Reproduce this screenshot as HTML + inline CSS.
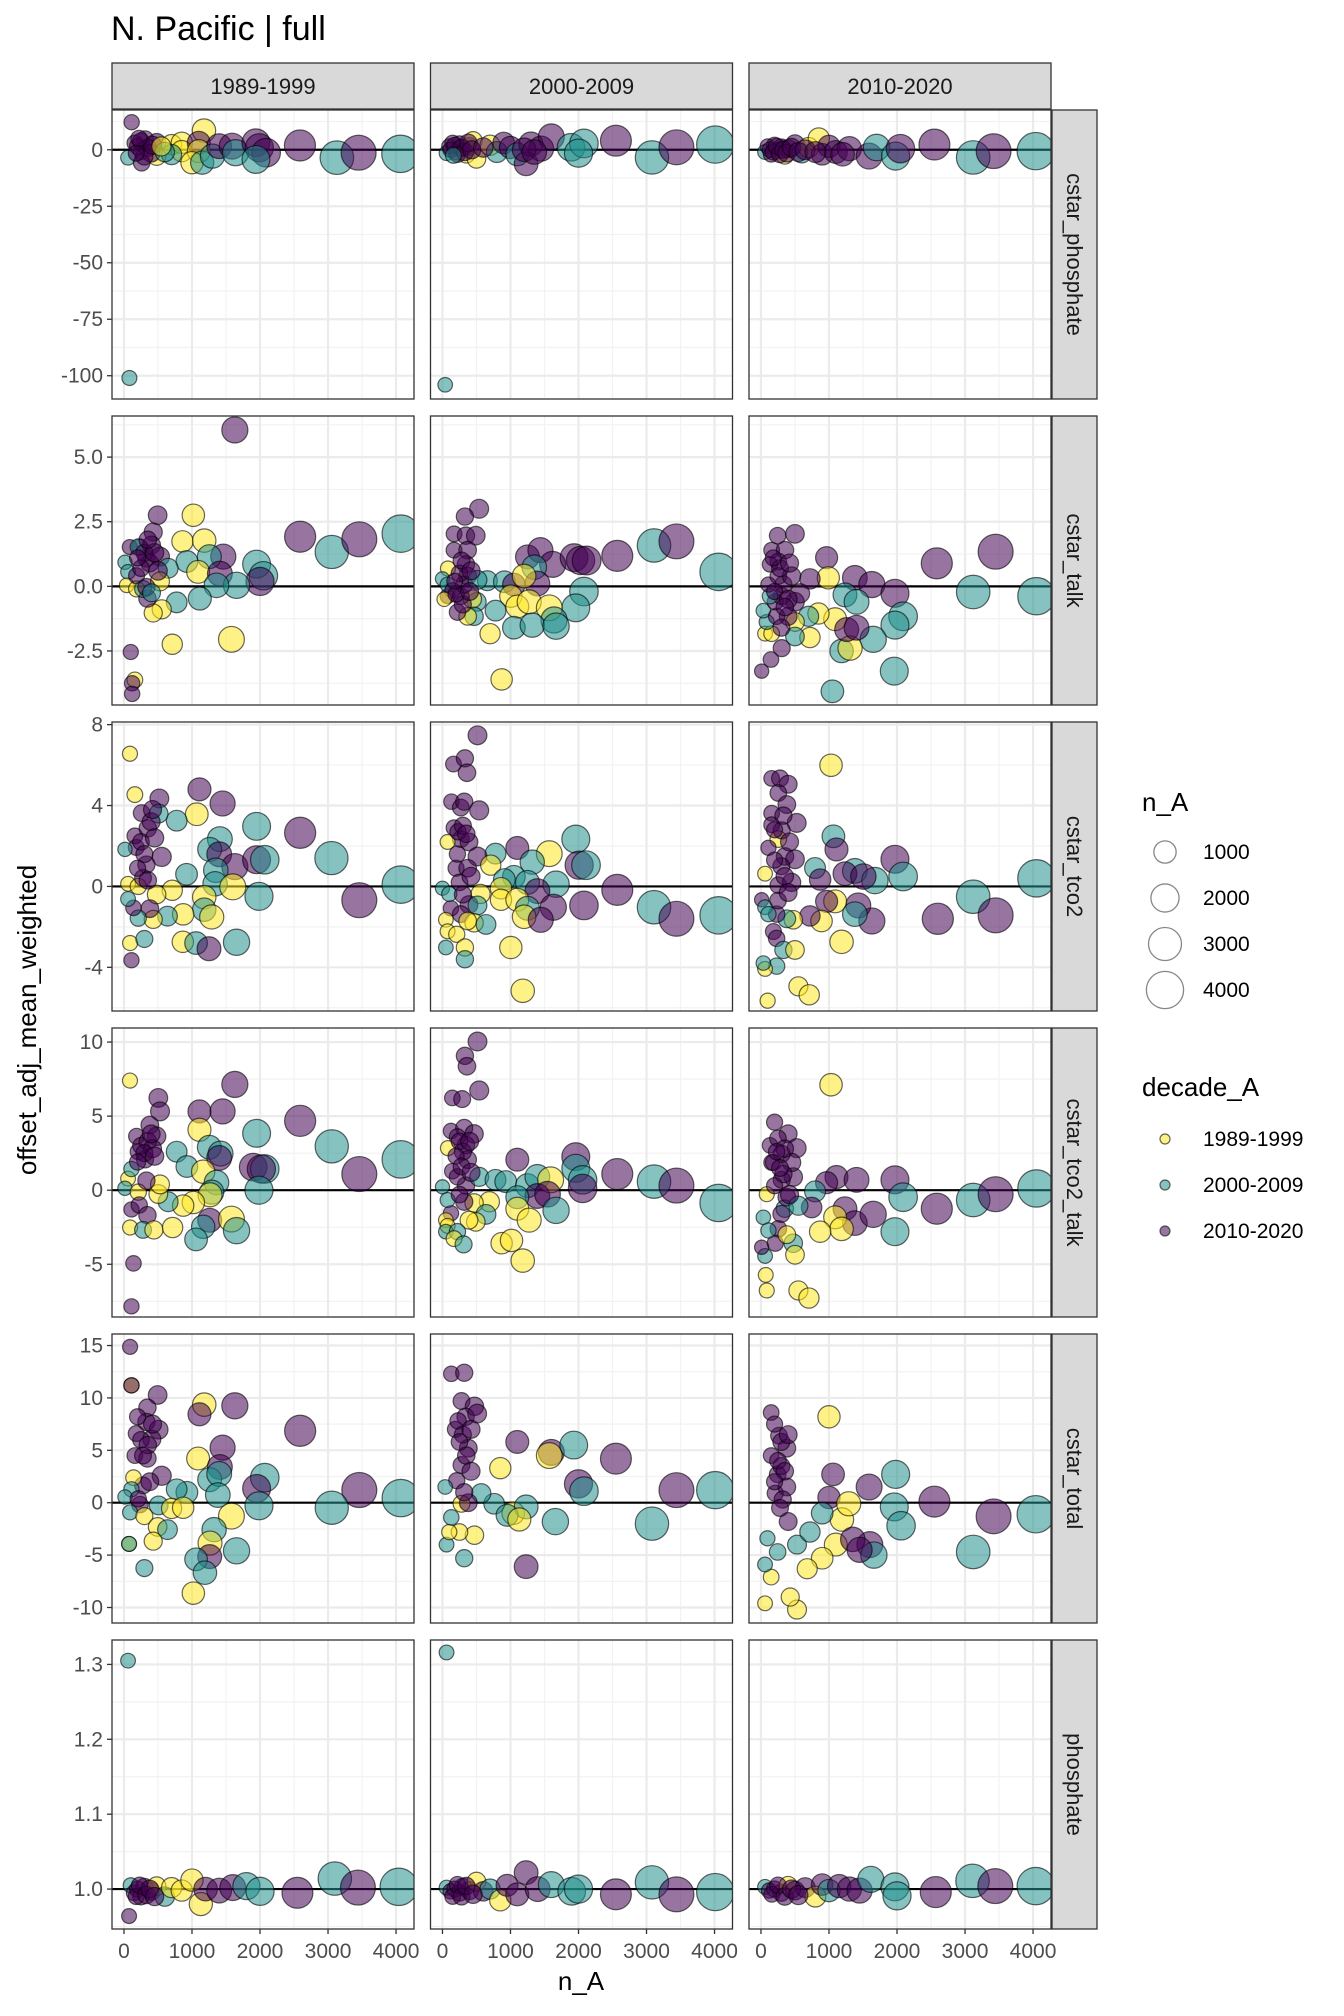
<!DOCTYPE html>
<html><head><meta charset="utf-8"><title>N. Pacific | full</title>
<style>html,body{margin:0;padding:0;background:#fff}svg{display:block;font-family:"Liberation Sans",Arial,sans-serif}</style>
</head><body>
<svg id="chart" width="1344" height="2016" viewBox="0 0 1344 2016" xmlns="http://www.w3.org/2000/svg">
<rect width="1344" height="2016" fill="#fff"/>
<text x="111" y="40" font-size="34" fill="#000">N. Pacific | full</text>
<g id="plot"></g>
<text transform="translate(36,1020) rotate(-90)" text-anchor="middle" font-size="26" fill="#000">offset_adj_mean_weighted</text>
<text x="581" y="1990" text-anchor="middle" font-size="26" fill="#000">n_A</text>
<g>
<text x="1142" y="811" font-size="26" fill="#000">n_A</text>
<g id="sizeLegend"></g>
</g>
<g>
<text x="1142" y="1096" font-size="26" fill="#000">decade_A</text>
<g id="colorLegend"></g>
</g>
</svg>
<script>
const columns = ["1989-1999","2000-2009","2010-2020"];
const rowsVars = ["cstar_phosphate","cstar_talk","cstar_tco2","cstar_tco2_talk","cstar_total","phosphate"];
const decadeLabels = ["1989-1999","2000-2009","2010-2020"];
const decadeColors = ["#FDE725","#21908C","#440154"];
const xTicks = [0,1000,2000,3000,4000];
const xDomain = [-176,4264];
const yTicksR1 = [0,-25,-50,-75,-100];
const yTicksR2 = [5.0,2.5,0.0,-2.5];
const yTicksR3 = [8,4,0,-4];
const yTicksR4 = [10,5,0,-5];
const yTicksR5 = [15,10,5,0,-5,-10];
const yTicksR6 = [1.3,1.2,1.1,1.0];
const yDomains = [[-110.3,17.6],[-4.59,6.59],[-6.16,8.13],[-8.56,10.95],[-11.48,16.1],[0.9467,1.3326]];
const yRefs = [0,0,0,0,0,1.0];
const sizeLegendValues = [1000,2000,3000,4000];

// each point: [n_A, value, decadeIndex]
const cstarPhosphate1990 = [[113,12.2,2],[1176,8.5,0],[310,4.6,2],[160,3,2],[260,-0.6,2],[480,3.1,2],[480,-2.8,0],[60,-3.5,1],[260,-5.7,2],[700,2.3,0],[850,3.1,0],[850,-0.6,0],[1100,3.1,2],[1100,-0.6,0],[1000,-5.7,0],[1150,-5.7,1],[700,-2.1,1],[1300,-2.8,1],[1400,1.6,2],[1590,1.6,2],[1640,-1.3,1],[1940,3.1,2],[1990,0.9,2],[2090,-1.3,2],[1940,-4.3,1],[2587,1.9,2],[3130,-3.5,1],[3450,-1.3,2],[4065,-1.8,1],[80,-101,1],[200,1.5,2],[250,3.8,2],[350,0.8,2],[400,-1.5,2],[300,-3,2],[180,-1.5,2],[420,2,2],[220,5,2],[600,-1,1],[550,1.5,0]];
const cstarPhosphate2000 = [[60,-1.5,1],[100,1.5,2],[150,3,2],[200,-1,2],[250,2.5,2],[300,0.5,2],[350,-2,0],[400,1.5,2],[450,4,0],[500,-4,0],[700,2,0],[800,-1,1],[900,3,2],[1000,1,2],[1100,-2,1],[1230,-6.2,2],[1300,2.5,2],[1450,0.5,2],[1600,5.7,2],[1890,1.1,1],[2080,2.8,1],[2000,-1.5,1],[2550,4,2],[3080,-3.4,1],[3440,1.1,2],[4010,2.3,1],[40,-104,1],[120,0,2],[180,2,2],[220,-2,2],[280,1,2],[330,-1,2],[380,3,2],[430,0,2],[160,-2.5,1],[600,1,2],[1200,0,2],[1350,-1,2]];
const cstarPhosphate2010 = [[60,-1,1],[100,1.5,2],[150,-2,2],[200,2,2],[250,-0.5,2],[300,1,2],[350,-2.5,0],[400,0.5,2],[500,2.5,2],[600,-1.5,1],[700,1,0],[850,5,0],[900,-2,2],[1000,1.5,2],[1100,-1,2],[1300,0.5,2],[1590,-2.8,2],[1700,1,1],[1980,-2.8,1],[2050,0.5,2],[2550,2.3,2],[3120,-3.4,1],[3420,-0.6,2],[4040,-0.6,1],[130,0,2],[180,-1,2],[230,1.5,2],[280,-2,2],[330,0,2],[380,-1.5,2],[450,1,2],[550,-1,2],[650,0,2],[800,-1,2],[1200,-2,2]];
const cstarTalk1990 = [[1630,6.05,2],[2590,1.92,2],[3055,1.33,1],[3460,1.82,2],[4070,2.04,1],[1020,2.75,0],[495,2.75,2],[430,2.1,2],[860,1.74,0],[1180,1.77,0],[925,0.96,1],[1460,1.15,2],[1255,1.15,1],[1090,0.56,0],[1410,0.49,2],[1950,0.86,1],[2050,0.41,1],[2000,0.19,2],[1655,0.04,1],[1360,0.04,1],[1115,-0.47,1],[775,-0.62,1],[555,-0.89,0],[430,-1.03,0],[1580,-2.05,0],[710,-2.24,0],[100,-2.54,2],[160,-3.62,0],[120,-3.75,2],[120,-4.16,2],[330,1.08,2],[235,1.52,2],[85,1.52,2],[210,1.52,1],[405,1.6,2],[530,1.15,2],[650,0.7,1],[530,0.19,0],[15,0.93,1],[60,0.56,1],[40,0.04,0],[185,-0.1,0],[185,0.41,2],[345,-0.47,2],[280,-0.1,1],[330,-0.03,2],[405,-0.25,1],[300,1.3,2],[380,0.9,2],[250,0.7,2],[450,1.3,2],[350,1.8,2],[200,1.1,2],[500,0.6,2]];
const cstarTalk2000 = [[539,3.0,2],[330,2.7,2],[170,2.03,2],[345,1.96,2],[490,1.96,2],[170,1.4,2],[370,1.4,2],[345,0.85,2],[370,0.4,2],[80,0.69,0],[1250,1.14,2],[1440,1.4,2],[1620,0.85,2],[1935,1.11,2],[2030,1.0,2],[2120,1.0,2],[2570,1.18,2],[3110,1.58,1],[3440,1.74,2],[4060,0.56,1],[660,0.22,1],[910,0.18,1],[1350,0.74,1],[1050,0.07,2],[1395,0.11,2],[1200,0.4,0],[2080,-0.2,1],[1960,-0.83,1],[1005,-0.38,0],[1100,-0.78,0],[1275,-0.6,0],[1570,-0.83,0],[1640,-1.3,1],[780,-0.94,1],[1050,-1.6,1],[1320,-1.5,1],[1670,-1.54,1],[700,-1.83,0],[870,-3.6,0],[505,-0.6,1],[440,-0.49,0],[465,-1.16,1],[370,-1.16,0],[220,-1.0,2],[75,-0.38,2],[0,0.29,1],[75,0.07,1],[150,-0.16,2],[270,-0.38,2],[320,0.07,2],[25,-0.5,0],[515,0.25,1],[250,0.5,2],[300,-0.7,2],[200,-0.3,2],[400,-0.2,2],[280,1.0,2],[420,0.6,2],[180,0.2,2]];
const cstarTalk2010 = [[500,2.03,2],[245,1.96,2],[157,1.4,2],[353,1.4,2],[255,0.96,2],[133,0.85,2],[965,1.11,2],[990,0.33,0],[720,0.29,2],[1380,0.33,2],[1630,0.07,2],[1970,-0.27,2],[2585,0.89,2],[3450,1.34,2],[3120,-0.22,1],[4050,-0.38,1],[1235,-0.33,1],[1405,-0.6,1],[2090,-1.16,1],[1970,-1.5,1],[1650,-2.05,1],[1960,-3.28,1],[1050,-4.06,1],[1185,-2.5,1],[1310,-2.39,0],[1090,-1.27,0],[1260,-1.67,2],[1405,-1.6,2],[845,-1.05,0],[700,-1.16,1],[720,-1.98,0],[500,-1.38,0],[400,-1.16,2],[500,-1.94,1],[305,-2.39,2],[147,-2.83,2],[10,-3.28,2],[60,-1.83,0],[157,-1.83,0],[83,-1.38,1],[35,-0.94,1],[230,-1.16,2],[210,-0.6,2],[500,-0.6,2],[305,-0.38,2],[133,-0.38,1],[110,0.07,2],[330,0.07,2],[574,-0.27,2],[255,0.4,2],[450,0.4,2],[200,-0.2,2],[400,-0.5,2],[280,0.7,2],[350,-0.8,2],[180,1.1,2],[420,0.9,2],[300,-1.6,2]];
const cstarTco21990 = [[88,6.56,0],[160,4.54,0],[1110,4.8,2],[1450,4.1,2],[520,4.35,2],[1070,3.57,0],[775,3.25,1],[1950,2.97,1],[2590,2.65,2],[3050,1.4,1],[1410,2.34,1],[1260,1.83,1],[1400,1.59,2],[1630,0.98,2],[1950,1.32,2],[2070,1.32,1],[920,0.6,1],[1350,0.8,1],[1340,0.13,1],[1600,-0.02,0],[1985,-0.49,1],[3460,-0.68,2],[4070,0.09,1],[1180,-0.53,0],[1180,-1.15,1],[1290,-1.51,0],[870,-1.38,0],[640,-1.47,1],[710,-0.19,0],[480,-0.4,0],[430,-1.63,0],[380,-1.1,2],[210,-1.57,1],[140,-1.06,2],[60,-0.62,1],[60,0.13,0],[210,0,0],[280,0.42,2],[330,1.08,2],[555,1.46,2],[180,1.93,2],[15,1.83,1],[160,2.5,2],[350,2.87,2],[510,3.6,1],[260,3.63,2],[90,-2.8,0],[300,-2.6,1],[865,-2.74,0],[1060,-2.8,1],[1250,-3.08,2],[1655,-2.76,1],[110,-3.65,2],[250,2.2,2],[400,3.2,2],[300,1.6,2],[450,2.4,2],[200,0.9,2],[350,0.3,2],[420,3.8,2]];
const cstarTco22000 = [[515,7.47,2],[162,6.05,2],[330,6.33,2],[360,5.62,2],[132,4.19,2],[270,3.9,2],[320,4.19,2],[540,3.76,2],[170,2.9,2],[270,2.34,2],[390,2.2,2],[75,2.2,0],[1100,1.9,2],[780,1.62,1],[1570,1.62,0],[1960,2.34,1],[2010,1.05,2],[2110,1.05,1],[1320,1.2,1],[515,1.48,2],[200,0.9,2],[370,0.9,2],[710,1.05,0],[1670,0.11,1],[1050,0.48,1],[910,0.34,1],[1250,0.2,1],[2570,-0.17,2],[860,-0.09,0],[1395,-0.23,2],[560,-0.37,0],[860,-0.66,0],[1100,-0.66,0],[1250,-1.08,1],[1630,-1.03,2],[2080,-0.94,2],[3110,-1.03,1],[3440,-1.6,2],[4060,-1.43,1],[1200,-1.5,0],[1445,-1.65,2],[125,-1.08,2],[390,-0.9,2],[515,-0.94,1],[270,-1.37,2],[465,-1.8,0],[370,-1.71,0],[640,-1.88,1],[50,-1.65,0],[75,-2.22,0],[210,-2.37,0],[50,-3.02,1],[330,-3.02,0],[330,-3.6,1],[1005,-3.02,0],[1180,-5.16,0],[0,-0.09,1],[100,-0.37,1],[230,2.7,2],[300,3.0,2],[350,2.6,2],[250,0.2,2],[300,-0.4,2],[420,0.5,2],[220,1.6,2]];
const cstarTco22010 = [[1030,5.99,0],[157,5.34,2],[280,5.34,2],[400,5.05,2],[255,4.62,2],[380,4.05,2],[157,3.62,2],[157,3.05,2],[525,3.14,2],[255,2.34,0],[305,2.77,2],[1065,2.48,1],[1110,1.83,2],[110,1.91,2],[353,1.48,2],[500,1.34,2],[795,0.91,1],[1380,0.77,1],[1235,0.63,2],[1970,1.34,2],[2090,0.49,1],[1675,0.29,1],[870,0.34,2],[1505,0.49,2],[4050,0.4,1],[3120,-0.51,1],[2600,-1.6,2],[3450,-1.43,2],[1630,-1.71,2],[1430,-0.94,2],[1090,-0.74,0],[965,-0.74,2],[1380,-1.37,1],[890,-1.71,0],[720,-1.46,2],[1185,-2.74,0],[475,-1.65,0],[380,-1.6,1],[230,-1.37,2],[183,-2.23,2],[230,-2.57,2],[330,-3.14,1],[500,-3.14,0],[230,-3.94,1],[60,-4.08,0],[35,-3.79,1],[550,-4.94,0],[710,-5.36,0],[98,-5.65,0],[10,-0.66,2],[60,-1.03,1],[110,-1.37,1],[60,0.63,0],[255,0.06,2],[450,0.2,2],[200,2.8,2],[300,1.0,2],[350,0.5,2],[250,-0.7,2],[400,-0.3,2],[200,1.3,2],[330,3.5,2],[420,2.2,2]];
const cstarTco2Talk1990 = [[88,7.4,0],[1630,7.14,2],[505,6.23,2],[530,5.32,2],[1110,5.32,2],[1450,5.32,2],[2590,4.68,2],[1110,4.08,0],[1950,3.84,1],[380,4.4,2],[480,3.64,2],[185,3.64,2],[3055,2.96,1],[1255,2.9,1],[1420,2.47,1],[1400,2.18,2],[775,2.6,1],[925,1.6,1],[1165,1.25,0],[1900,1.56,2],[2070,1.43,1],[2020,1.43,2],[3460,1.09,2],[4070,2.08,1],[1985,0,1],[1360,0.52,1],[1290,-0.13,1],[1265,-0.31,0],[1020,-0.83,0],[870,-1.04,0],[650,-0.78,1],[505,-0.26,0],[530,0.39,0],[60,0.78,0],[15,0.13,1],[210,-0.13,0],[330,0.65,2],[110,1.43,1],[210,2.6,2],[310,2.08,2],[110,-1.3,2],[225,-1.0,2],[345,-1.69,2],[90,-2.52,0],[280,-2.68,1],[440,-2.68,0],[715,-2.52,0],[1260,-2.03,2],[1165,-2.47,1],[1580,-1.95,0],[1655,-2.73,1],[1060,-3.32,1],[140,-4.94,2],[110,-7.84,2],[250,3.0,2],[350,3.3,2],[420,2.8,2],[300,2.5,2],[400,3.8,2],[200,1.9,2],[450,2.3,2]];
const cstarTco2Talk2000 = [[515,10.04,2],[330,9.07,2],[360,8.37,2],[540,6.73,2],[145,6.23,2],[290,6.15,2],[125,4.0,2],[320,4.2,2],[465,3.8,2],[220,3.6,2],[80,2.84,0],[345,3.04,2],[370,2.06,2],[1100,2.06,2],[1960,2.26,2],[145,1.28,2],[345,0.31,2],[220,0.9,2],[540,0.9,1],[780,0.7,1],[930,0.58,1],[1250,0.31,1],[1395,0.9,1],[1590,0.7,0],[1960,1.48,1],[2060,0.7,1],[2060,0.12,2],[2570,1.09,2],[3110,0.58,1],[3440,0.31,2],[4060,-0.86,1],[1395,-0.39,2],[1545,-0.27,2],[1100,-0.47,1],[1670,-1.36,1],[690,-0.78,0],[465,-0.86,0],[320,-0.78,2],[640,-1.63,1],[490,-2.14,0],[390,-2.02,0],[1100,-1.25,0],[1275,-2.02,0],[870,-3.58,0],[1015,-3.39,0],[1180,-4.75,0],[125,-1.56,2],[50,-2.02,0],[75,-2.41,0],[50,-2.8,1],[220,-2.8,1],[170,-3.27,0],[310,-3.66,1],[0,0.23,1],[75,-0.66,1],[250,3.3,2],[300,2.6,2],[400,3.3,2],[200,2.3,2],[280,1.6,2],[420,1.2,2],[250,-0.3,2]];
const cstarTco2Talk2010 = [[1030,7.12,0],[200,4.59,2],[400,3.81,2],[133,3.03,2],[305,2.45,2],[525,2.84,2],[157,1.87,2],[475,0.89,2],[305,0.7,2],[1110,0.89,2],[965,0.51,2],[1405,0.7,2],[1970,0.7,2],[2090,-0.47,1],[2585,-1.25,2],[3120,-0.66,1],[3450,-0.27,2],[4050,0.12,1],[795,-0.08,1],[745,-1.17,2],[1235,-1.25,2],[1380,-2.22,2],[1090,-1.83,0],[1185,-2.61,0],[1650,-1.63,2],[1970,-2.8,1],[870,-2.8,0],[475,-3.58,1],[500,-4.36,0],[350,-1.25,1],[380,-0.47,2],[550,-1.05,1],[255,-2.61,2],[210,-3.58,2],[60,-4.44,1],[10,-3.85,2],[70,-5.72,0],[85,-6.77,0],[550,-6.77,0],[705,-7.28,0],[85,-0.27,0],[35,-1.83,1],[110,-2.72,1],[380,-3.0,0],[183,1.87,2],[450,1.87,2],[330,1.09,2],[250,3.5,2],[350,2.8,2],[280,1.5,2],[200,0.3,2],[420,-0.3,2],[300,-1.6,2],[230,2.6,2]];
const cstarTotal1990 = [[90,14.87,2],[110,11.2,0],[110,11.2,2],[495,10.28,2],[1180,9.36,0],[1110,8.44,2],[1630,9.25,2],[345,9.07,2],[2590,6.86,2],[330,7.7,2],[180,6.6,2],[510,6.97,2],[410,6.06,2],[1450,5.25,2],[1090,4.22,0],[160,4.5,2],[345,4.22,2],[1410,3.41,2],[1260,2.2,1],[1400,2.75,1],[2070,2.39,1],[1950,1.36,2],[1380,0.73,1],[925,0.99,1],[775,1.28,1],[3460,1.21,2],[4070,0.44,1],[3055,-0.48,1],[1985,-0.29,1],[510,-0.26,1],[700,-0.55,0],[870,-0.48,0],[555,2.57,2],[280,1.65,2],[140,2.39,0],[110,1.28,1],[15,0.55,1],[235,-0.18,2],[210,0.37,2],[90,-0.92,1],[300,-1.28,0],[1580,-1.28,0],[495,-2.31,0],[640,-2.57,1],[1325,-2.57,1],[1265,-3.85,0],[430,-3.67,0],[75,-3.93,0],[75,-3.93,1],[1655,-4.59,1],[1260,-5.14,2],[1060,-5.4,1],[1190,-6.68,1],[300,-6.24,1],[1020,-8.63,0],[250,6.0,2],[350,5.5,2],[280,4.5,2],[420,7.5,2],[200,8.2,2],[380,2.0,2]];
const cstarTotal2000 = [[130,12.3,2],[320,12.4,2],[280,9.7,2],[470,9.2,2],[340,8.2,2],[510,8.5,2],[190,7,2],[380,5.2,2],[280,3.6,2],[210,2.1,2],[1100,5.8,2],[1600,4.8,2],[1570,4.5,0],[2550,4.2,2],[1930,5.5,1],[850,3.3,0],[2000,1.8,2],[2080,1.1,1],[3440,1.2,2],[4010,1.2,1],[3080,-2.0,1],[1660,-1.8,1],[1040,-1.0,0],[1230,-0.4,1],[760,-0.1,1],[950,-1.2,1],[1130,-1.6,0],[1230,-6.1,2],[320,-5.3,1],[470,-3.1,0],[250,-2.8,0],[60,-4.0,1],[100,-2.8,0],[130,-1.4,1],[280,-0.1,0],[570,0.9,1],[40,1.5,1],[380,0,2],[230,7.8,2],[300,6.5,2],[420,7.0,2],[350,4.5,2],[250,5.8,2],[320,1.0,2],[420,3.0,2]];
const cstarTotal2010 = [[1000,8.2,0],[150,8.6,2],[265,6.4,2],[150,4.5,2],[380,5.2,2],[245,2.7,2],[210,0.9,2],[380,1.5,2],[300,3.5,2],[1060,2.7,2],[1590,1.5,2],[1980,2.7,1],[1000,0.5,2],[1960,-0.4,1],[1600,-4.0,2],[1660,-5.0,1],[2060,-2.2,1],[2550,0.1,2],[3420,-1.3,2],[3120,-4.7,1],[4040,-1.1,1],[1100,-4.0,0],[900,-5.3,0],[680,-6.3,0],[530,-10.2,0],[430,-9.0,0],[60,-9.6,0],[150,-7.1,0],[60,-5.9,1],[95,-3.4,1],[245,-4.7,1],[400,-1.8,2],[530,-4.0,1],[720,-2.8,1],[1190,-1.6,0],[1290,-0.1,0],[900,-1.0,1],[1350,-3.5,2],[1450,-4.5,2],[200,7.5,2],[300,5.8,2],[250,4.0,2],[350,3.0,2],[200,2.0,2],[320,0.3,2],[400,6.5,2],[280,-0.5,2]];
const phosphate1990 = [[60,1.305,1],[75,0.964,2],[100,1.005,1],[150,0.995,2],[200,1.0,2],[250,0.99,2],[300,1.003,2],[400,0.997,2],[480,1.004,0],[600,0.99,1],[700,1.002,0],[850,0.998,0],[1000,1.012,0],[1130,0.98,0],[1200,1.0,2],[1400,0.998,2],[1600,1.002,2],[1800,1.004,1],[2000,0.997,1],[2550,0.995,2],[3100,1.014,1],[3440,1.002,2],[4040,1.003,1],[180,0.99,2],[230,1.005,2],[330,0.992,2],[380,1.0,2],[450,0.99,2]];
const phosphate2000 = [[60,1.316,1],[60,1.002,1],[120,0.997,2],[180,1.0,2],[250,0.995,2],[300,1.003,2],[400,0.998,2],[500,1.01,0],[600,0.997,2],[700,1.0,1],[850,0.985,0],[950,1.005,2],[1100,0.993,2],[1230,1.022,2],[1400,1.0,2],[1600,1.006,1],[1900,0.997,1],[2000,1.0,1],[2550,0.993,2],[3080,1.009,1],[3440,0.993,2],[4010,0.996,1],[150,0.99,2],[220,1.006,2],[280,0.99,2],[350,1.004,2],[450,0.993,2]];
const phosphate2010 = [[60,1.003,1],[120,0.998,2],[200,1.0,2],[300,0.995,2],[400,1.005,0],[500,0.998,2],[650,1.002,2],[800,0.99,0],[900,1.006,2],[1000,0.998,1],[1150,1.004,2],[1300,1.0,2],[1450,0.998,2],[1615,1.013,1],[1970,1.003,1],[2000,0.991,1],[2570,0.996,2],[3110,1.011,1],[3445,1.004,2],[4040,1.004,1],[160,0.993,2],[250,1.005,2],[350,0.99,2],[450,1.0,2],[550,0.992,2]];

const panelData = [
  [cstarPhosphate1990,cstarPhosphate2000,cstarPhosphate2010],
  [cstarTalk1990,cstarTalk2000,cstarTalk2010],
  [cstarTco21990,cstarTco22000,cstarTco22010],
  [cstarTco2Talk1990,cstarTco2Talk2000,cstarTco2Talk2010],
  [cstarTotal1990,cstarTotal2000,cstarTotal2010],
  [phosphate1990,phosphate2000,phosphate2010]
];
const yTickSets = [yTicksR1,yTicksR2,yTicksR3,yTicksR4,yTicksR5,yTicksR6];

const NS = "http://www.w3.org/2000/svg";
const plot = document.getElementById('plot');
const PL = 112, PW = 302, PSTEP = 318.5, PT = 110, PH = 289, RSTEP = 306;
function mk(tag, attrs, parent){const e=document.createElementNS(NS,tag);for(const k in attrs)e.setAttribute(k,attrs[k]);parent.appendChild(e);return e;}
function radius(n){return Math.sqrt(50+0.074*n);}
function xScale(col,v){const x0=PL+col*PSTEP;return x0+(v-xDomain[0])/(xDomain[1]-xDomain[0])*PW;}
function yScale(row,v){const d=yDomains[row];const y0=PT+row*RSTEP;return y0+PH-(v-d[0])/(d[1]-d[0])*PH;}
function fmt(row,v){if(row===1)return v.toFixed(1);if(row===5)return v.toFixed(1);return String(v);}

columns.forEach((c,ci)=>{
  const x0=PL+ci*PSTEP;
  const g=mk('g',{},plot);
  
  
  mk('rect',{x:x0,y:63,width:PW,height:46,fill:'#D9D9D9',stroke:'#333','stroke-width':1.3},g);
  const t=mk('text',{x:x0+PW/2,y:94,'text-anchor':'middle','font-size':22,fill:'#1A1A1A'},g);
  t.textContent=c;
});

for(let r=0;r<6;r++){
  const y0=PT+r*RSTEP;
  const d=yDomains[r];
  const ticks=yTickSets[r];
  const step=Math.abs(ticks[0]-ticks[1]);
  const minors=[];
  const lo=Math.min(...ticks),hi=Math.max(...ticks);
  for(let v=lo-step/2;v<=hi+step/2+1e-9;v+=step){if(v>d[0]&&v<d[1])minors.push(v);}
  const sg=mk('g',{},plot);
  
  
  mk('rect',{x:1052,y:y0,width:45,height:PH,fill:'#D9D9D9',stroke:'#333','stroke-width':1.3},sg);
  const st=mk('text',{transform:`translate(1067,${y0+PH/2}) rotate(90)`,'text-anchor':'middle','font-size':22,fill:'#1A1A1A'},sg);
  st.textContent=rowsVars[r];
  for(let c=0;c<3;c++){
    const x0=PL+c*PSTEP;
    const g=mk('g',{},plot);
    
    
    const cid='clip'+r+'_'+c;
    const cp=mk('clipPath',{id:cid},g);
    mk('rect',{x:x0,y:y0,width:PW,height:PH},cp);
    mk('rect',{x:x0,y:y0,width:PW,height:PH,fill:'#fff'},g);
    const grid=mk('g',{'clip-path':`url(#${cid})`},g);
    minors.forEach(v=>{const y=yScale(r,v);mk('line',{x1:x0,x2:x0+PW,y1:y,y2:y,stroke:'#F2F2F2','stroke-width':1.2},grid);});
    [500,1500,2500,3500].forEach(v=>{const x=xScale(c,v);mk('line',{x1:x,x2:x,y1:y0,y2:y0+PH,stroke:'#F2F2F2','stroke-width':1.2},grid);});
    ticks.forEach(v=>{const y=yScale(r,v);mk('line',{x1:x0,x2:x0+PW,y1:y,y2:y,stroke:'#EBEBEB','stroke-width':2.2},grid);});
    xTicks.forEach(v=>{const x=xScale(c,v);mk('line',{x1:x,x2:x,y1:y0,y2:y0+PH,stroke:'#EBEBEB','stroke-width':2.2},grid);});
    const yr=yScale(r,yRefs[r]);
    const ref=mk('line',{x1:x0,x2:x0+PW,y1:yr,y2:yr,stroke:'#000','stroke-width':2.2},grid);
    
    
    const pts=panelData[r][c];
    pts.forEach(p=>{
      const ci=mk('circle',{cx:xScale(c,p[0]),cy:yScale(r,p[1]),r:radius(p[0]),fill:decadeColors[p[2]],'fill-opacity':0.55,stroke:'#000','stroke-opacity':0.6,'stroke-width':1.2},grid);
      
      
    });
    mk('rect',{x:x0,y:y0,width:PW,height:PH,fill:'none',stroke:'#333','stroke-width':1.3},g);
    if(c===0){
      const ag=mk('g',{},plot);
      
      
      ticks.forEach(v=>{const y=yScale(r,v);
        mk('line',{x1:x0-5,x2:x0,y1:y,y2:y,stroke:'#333','stroke-width':1.3},ag);
        const t=mk('text',{x:x0-9,y:y+7,'text-anchor':'end','font-size':21,fill:'#4D4D4D'},ag);t.textContent=fmt(r,v);});
    }
    if(r===5){
      const ag=mk('g',{},plot);
      
      
      xTicks.forEach(v=>{const x=xScale(c,v);
        mk('line',{x1:x,x2:x,y1:y0+PH,y2:y0+PH+5,stroke:'#333','stroke-width':1.3},ag);
        const t=mk('text',{x:x,y:y0+PH+29,'text-anchor':'middle','font-size':21,fill:'#4D4D4D'},ag);t.textContent=String(v);});
    }
  }
}

const sl=document.getElementById('sizeLegend');
sizeLegendValues.forEach((v,i)=>{
  const y=852+i*46;
  const g=mk('g',{},sl);
  
  
  mk('circle',{cx:1165,cy:y,r:radius(v),fill:'#fff',stroke:'#888','stroke-width':1.3},g);
  const t=mk('text',{x:1203,y:y+7,'font-size':21,fill:'#000'},g);t.textContent=String(v);
});
const cl=document.getElementById('colorLegend');
decadeLabels.forEach((lab,i)=>{
  const y=1139+i*46;
  const g=mk('g',{},cl);
  
  
  mk('circle',{cx:1165,cy:y,r:5,fill:decadeColors[i],'fill-opacity':0.55,stroke:'#000','stroke-opacity':0.6,'stroke-width':1.2},g);
  const t=mk('text',{x:1203,y:y+7,'font-size':21,fill:'#000'},g);t.textContent=lab;
});
</script>
</body></html>
